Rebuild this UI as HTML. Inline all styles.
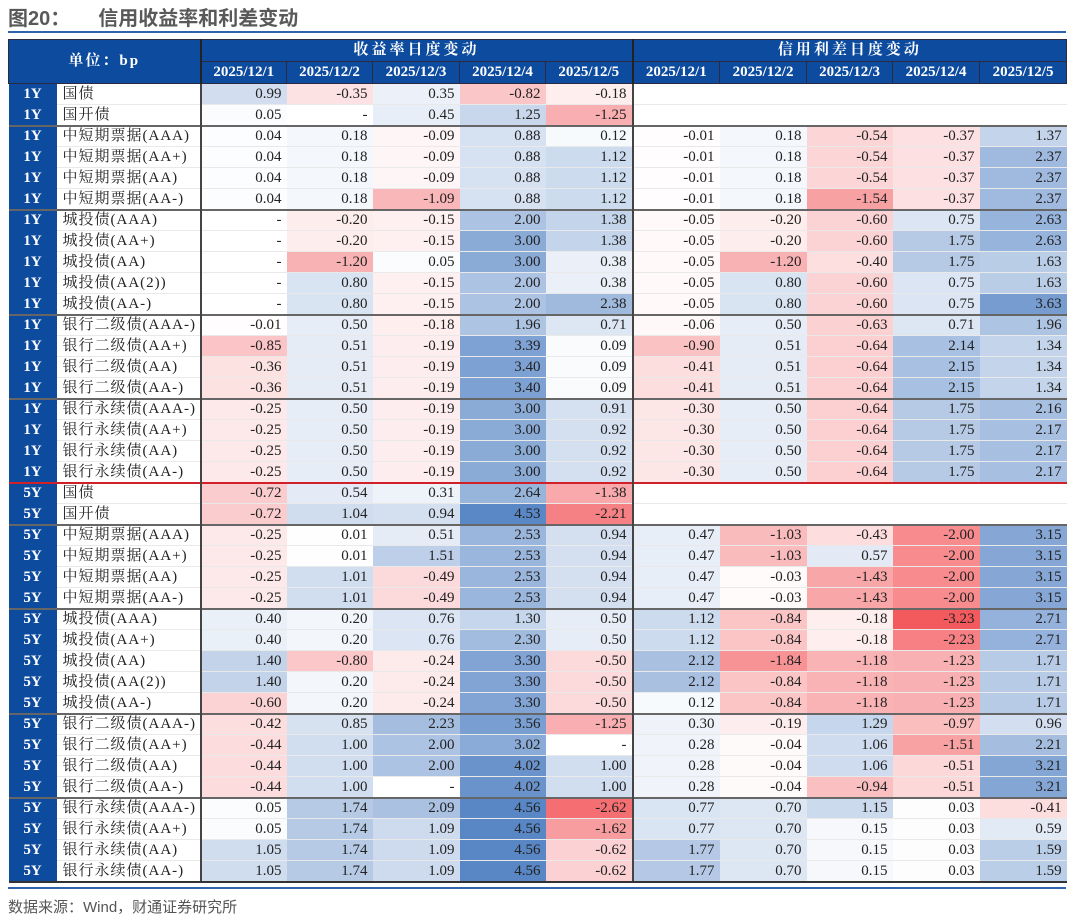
<!DOCTYPE html>
<html><head><meta charset="utf-8">
<style>
body{margin:0;width:1080px;height:917px;background:#fff;position:relative;overflow:hidden;font-family:"Liberation Serif","Noto Serif CJK SC",serif;}
.title{position:absolute;left:8px;top:2px;font-family:"Liberation Sans","Noto Sans CJK SC",sans-serif;font-weight:bold;font-size:20px;color:#595959;}
.title span{margin-left:28px}
.hl{position:absolute;left:8px;width:1058px;height:2px;background:#2f64ad}
table{position:absolute;left:8px;top:39px;border-collapse:collapse;table-layout:fixed;width:1058px;font-size:15px;color:#222}
td{height:20px;padding:0 5px 0 0;text-align:right;border-bottom:1px solid #e9e9e9;white-space:nowrap;overflow:hidden;line-height:19px}
td.y{background:#0d4b9f;color:#fff;font-weight:bold;text-align:center;padding:0;border-bottom:1px solid #0d4b9f}
td.n{text-align:left;padding-left:6px;border-right:2px solid #444;letter-spacing:1px}
td.s{border-left:2px solid #444}
tr.g td{border-top:2px solid #666;height:19px}
tr.r td{border-top:2px solid #d0202a;height:19px}
tr.h td{background:#0d4b9f;color:#fff;font-weight:bold;text-align:center;padding:0;border:1px solid #2a2a40;height:21px}
tr:last-child td{border-bottom:2px solid #333}
.src{position:absolute;left:8px;top:896px;font-family:"Liberation Sans","Noto Sans CJK SC",sans-serif;font-size:15px;color:#555}
</style></head><body>
<div class="title">图20：<span>信用收益率和利差变动</span></div>
<div class="hl" style="top:31px"></div>
<table id="t">
<colgroup><col style="width:48px"><col style="width:144px"><col style="width:86px"><col style="width:86px"><col style="width:87px"><col style="width:86px"><col style="width:87px"><col style="width:87px"><col style="width:87px"><col style="width:86px"><col style="width:87px"><col style="width:87px"></colgroup>
<tr class="h"><td colspan="2" rowspan="2" style="letter-spacing:2px">单位：bp</td><td colspan="5" style="letter-spacing:3px;border-left:2px solid #222">收益率日度变动</td><td colspan="5" style="letter-spacing:3px;border-left:2px solid #222">信用利差日度变动</td></tr>
<tr class="h"><td style="border-left:2px solid #222">2025/12/1</td><td>2025/12/2</td><td>2025/12/3</td><td>2025/12/4</td><td>2025/12/5</td><td style="border-left:2px solid #222">2025/12/1</td><td>2025/12/2</td><td>2025/12/3</td><td>2025/12/4</td><td>2025/12/5</td></tr>
<tr><td class="y">1Y</td><td class="n">国债</td><td>0.99</td><td>-0.35</td><td>0.35</td><td>-0.82</td><td>-0.18</td><td class="s b"></td><td class="b"></td><td class="b"></td><td class="b"></td><td class="b"></td></tr>
<tr><td class="y">1Y</td><td class="n">国开债</td><td>0.05</td><td>-</td><td>0.45</td><td>1.25</td><td>-1.25</td><td class="s b"></td><td class="b"></td><td class="b"></td><td class="b"></td><td class="b"></td></tr>
<tr class="g"><td class="y">1Y</td><td class="n">中短期票据(AAA)</td><td>0.04</td><td>0.18</td><td>-0.09</td><td>0.88</td><td>0.12</td><td class="s">-0.01</td><td>0.18</td><td>-0.54</td><td>-0.37</td><td>1.37</td></tr>
<tr><td class="y">1Y</td><td class="n">中短期票据(AA+)</td><td>0.04</td><td>0.18</td><td>-0.09</td><td>0.88</td><td>1.12</td><td class="s">-0.01</td><td>0.18</td><td>-0.54</td><td>-0.37</td><td>2.37</td></tr>
<tr><td class="y">1Y</td><td class="n">中短期票据(AA)</td><td>0.04</td><td>0.18</td><td>-0.09</td><td>0.88</td><td>1.12</td><td class="s">-0.01</td><td>0.18</td><td>-0.54</td><td>-0.37</td><td>2.37</td></tr>
<tr><td class="y">1Y</td><td class="n">中短期票据(AA-)</td><td>0.04</td><td>0.18</td><td>-1.09</td><td>0.88</td><td>1.12</td><td class="s">-0.01</td><td>0.18</td><td>-1.54</td><td>-0.37</td><td>2.37</td></tr>
<tr class="g"><td class="y">1Y</td><td class="n">城投债(AAA)</td><td>-</td><td>-0.20</td><td>-0.15</td><td>2.00</td><td>1.38</td><td class="s">-0.05</td><td>-0.20</td><td>-0.60</td><td>0.75</td><td>2.63</td></tr>
<tr><td class="y">1Y</td><td class="n">城投债(AA+)</td><td>-</td><td>-0.20</td><td>-0.15</td><td>3.00</td><td>1.38</td><td class="s">-0.05</td><td>-0.20</td><td>-0.60</td><td>1.75</td><td>2.63</td></tr>
<tr><td class="y">1Y</td><td class="n">城投债(AA)</td><td>-</td><td>-1.20</td><td>0.05</td><td>3.00</td><td>0.38</td><td class="s">-0.05</td><td>-1.20</td><td>-0.40</td><td>1.75</td><td>1.63</td></tr>
<tr><td class="y">1Y</td><td class="n">城投债(AA(2))</td><td>-</td><td>0.80</td><td>-0.15</td><td>2.00</td><td>0.38</td><td class="s">-0.05</td><td>0.80</td><td>-0.60</td><td>0.75</td><td>1.63</td></tr>
<tr><td class="y">1Y</td><td class="n">城投债(AA-)</td><td>-</td><td>0.80</td><td>-0.15</td><td>2.00</td><td>2.38</td><td class="s">-0.05</td><td>0.80</td><td>-0.60</td><td>0.75</td><td>3.63</td></tr>
<tr class="g"><td class="y">1Y</td><td class="n">银行二级债(AAA-)</td><td>-0.01</td><td>0.50</td><td>-0.18</td><td>1.96</td><td>0.71</td><td class="s">-0.06</td><td>0.50</td><td>-0.63</td><td>0.71</td><td>1.96</td></tr>
<tr><td class="y">1Y</td><td class="n">银行二级债(AA+)</td><td>-0.85</td><td>0.51</td><td>-0.19</td><td>3.39</td><td>0.09</td><td class="s">-0.90</td><td>0.51</td><td>-0.64</td><td>2.14</td><td>1.34</td></tr>
<tr><td class="y">1Y</td><td class="n">银行二级债(AA)</td><td>-0.36</td><td>0.51</td><td>-0.19</td><td>3.40</td><td>0.09</td><td class="s">-0.41</td><td>0.51</td><td>-0.64</td><td>2.15</td><td>1.34</td></tr>
<tr><td class="y">1Y</td><td class="n">银行二级债(AA-)</td><td>-0.36</td><td>0.51</td><td>-0.19</td><td>3.40</td><td>0.09</td><td class="s">-0.41</td><td>0.51</td><td>-0.64</td><td>2.15</td><td>1.34</td></tr>
<tr class="g"><td class="y">1Y</td><td class="n">银行永续债(AAA-)</td><td>-0.25</td><td>0.50</td><td>-0.19</td><td>3.00</td><td>0.91</td><td class="s">-0.30</td><td>0.50</td><td>-0.64</td><td>1.75</td><td>2.16</td></tr>
<tr><td class="y">1Y</td><td class="n">银行永续债(AA+)</td><td>-0.25</td><td>0.50</td><td>-0.19</td><td>3.00</td><td>0.92</td><td class="s">-0.30</td><td>0.50</td><td>-0.64</td><td>1.75</td><td>2.17</td></tr>
<tr><td class="y">1Y</td><td class="n">银行永续债(AA)</td><td>-0.25</td><td>0.50</td><td>-0.19</td><td>3.00</td><td>0.92</td><td class="s">-0.30</td><td>0.50</td><td>-0.64</td><td>1.75</td><td>2.17</td></tr>
<tr><td class="y">1Y</td><td class="n">银行永续债(AA-)</td><td>-0.25</td><td>0.50</td><td>-0.19</td><td>3.00</td><td>0.92</td><td class="s">-0.30</td><td>0.50</td><td>-0.64</td><td>1.75</td><td>2.17</td></tr>
<tr class="r"><td class="y">5Y</td><td class="n">国债</td><td>-0.72</td><td>0.54</td><td>0.31</td><td>2.64</td><td>-1.38</td><td class="s b"></td><td class="b"></td><td class="b"></td><td class="b"></td><td class="b"></td></tr>
<tr><td class="y">5Y</td><td class="n">国开债</td><td>-0.72</td><td>1.04</td><td>0.94</td><td>4.53</td><td>-2.21</td><td class="s b"></td><td class="b"></td><td class="b"></td><td class="b"></td><td class="b"></td></tr>
<tr class="g"><td class="y">5Y</td><td class="n">中短期票据(AAA)</td><td>-0.25</td><td>0.01</td><td>0.51</td><td>2.53</td><td>0.94</td><td class="s">0.47</td><td>-1.03</td><td>-0.43</td><td>-2.00</td><td>3.15</td></tr>
<tr><td class="y">5Y</td><td class="n">中短期票据(AA+)</td><td>-0.25</td><td>0.01</td><td>1.51</td><td>2.53</td><td>0.94</td><td class="s">0.47</td><td>-1.03</td><td>0.57</td><td>-2.00</td><td>3.15</td></tr>
<tr><td class="y">5Y</td><td class="n">中短期票据(AA)</td><td>-0.25</td><td>1.01</td><td>-0.49</td><td>2.53</td><td>0.94</td><td class="s">0.47</td><td>-0.03</td><td>-1.43</td><td>-2.00</td><td>3.15</td></tr>
<tr><td class="y">5Y</td><td class="n">中短期票据(AA-)</td><td>-0.25</td><td>1.01</td><td>-0.49</td><td>2.53</td><td>0.94</td><td class="s">0.47</td><td>-0.03</td><td>-1.43</td><td>-2.00</td><td>3.15</td></tr>
<tr class="g"><td class="y">5Y</td><td class="n">城投债(AAA)</td><td>0.40</td><td>0.20</td><td>0.76</td><td>1.30</td><td>0.50</td><td class="s">1.12</td><td>-0.84</td><td>-0.18</td><td>-3.23</td><td>2.71</td></tr>
<tr><td class="y">5Y</td><td class="n">城投债(AA+)</td><td>0.40</td><td>0.20</td><td>0.76</td><td>2.30</td><td>0.50</td><td class="s">1.12</td><td>-0.84</td><td>-0.18</td><td>-2.23</td><td>2.71</td></tr>
<tr><td class="y">5Y</td><td class="n">城投债(AA)</td><td>1.40</td><td>-0.80</td><td>-0.24</td><td>3.30</td><td>-0.50</td><td class="s">2.12</td><td>-1.84</td><td>-1.18</td><td>-1.23</td><td>1.71</td></tr>
<tr><td class="y">5Y</td><td class="n">城投债(AA(2))</td><td>1.40</td><td>0.20</td><td>-0.24</td><td>3.30</td><td>-0.50</td><td class="s">2.12</td><td>-0.84</td><td>-1.18</td><td>-1.23</td><td>1.71</td></tr>
<tr><td class="y">5Y</td><td class="n">城投债(AA-)</td><td>-0.60</td><td>0.20</td><td>-0.24</td><td>3.30</td><td>-0.50</td><td class="s">0.12</td><td>-0.84</td><td>-1.18</td><td>-1.23</td><td>1.71</td></tr>
<tr class="g"><td class="y">5Y</td><td class="n">银行二级债(AAA-)</td><td>-0.42</td><td>0.85</td><td>2.23</td><td>3.56</td><td>-1.25</td><td class="s">0.30</td><td>-0.19</td><td>1.29</td><td>-0.97</td><td>0.96</td></tr>
<tr><td class="y">5Y</td><td class="n">银行二级债(AA+)</td><td>-0.44</td><td>1.00</td><td>2.00</td><td>3.02</td><td>-</td><td class="s">0.28</td><td>-0.04</td><td>1.06</td><td>-1.51</td><td>2.21</td></tr>
<tr><td class="y">5Y</td><td class="n">银行二级债(AA)</td><td>-0.44</td><td>1.00</td><td>2.00</td><td>4.02</td><td>1.00</td><td class="s">0.28</td><td>-0.04</td><td>1.06</td><td>-0.51</td><td>3.21</td></tr>
<tr><td class="y">5Y</td><td class="n">银行二级债(AA-)</td><td>-0.44</td><td>1.00</td><td>-</td><td>4.02</td><td>1.00</td><td class="s">0.28</td><td>-0.04</td><td>-0.94</td><td>-0.51</td><td>3.21</td></tr>
<tr class="g"><td class="y">5Y</td><td class="n">银行永续债(AAA-)</td><td>0.05</td><td>1.74</td><td>2.09</td><td>4.56</td><td>-2.62</td><td class="s">0.77</td><td>0.70</td><td>1.15</td><td>0.03</td><td>-0.41</td></tr>
<tr><td class="y">5Y</td><td class="n">银行永续债(AA+)</td><td>0.05</td><td>1.74</td><td>1.09</td><td>4.56</td><td>-1.62</td><td class="s">0.77</td><td>0.70</td><td>0.15</td><td>0.03</td><td>0.59</td></tr>
<tr><td class="y">5Y</td><td class="n">银行永续债(AA)</td><td>1.05</td><td>1.74</td><td>1.09</td><td>4.56</td><td>-0.62</td><td class="s">1.77</td><td>0.70</td><td>0.15</td><td>0.03</td><td>1.59</td></tr>
<tr><td class="y">5Y</td><td class="n">银行永续债(AA-)</td><td>1.05</td><td>1.74</td><td>1.09</td><td>4.56</td><td>-0.62</td><td class="s">1.77</td><td>0.70</td><td>0.15</td><td>0.03</td><td>1.59</td></tr>
</table>
<div class="hl" style="top:887px"></div>
<div class="src">数据来源：Wind，财通证券研究所</div>
<script>
var rows=document.getElementById('t').rows;
for(var i=2;i<rows.length;i++){var c=rows[i].cells;for(var j=2;j<c.length;j++){
 var td=c[j]; if(td.className.indexOf('b')>=0&&td.textContent==='')continue;
 var v=parseFloat(td.textContent); if(isNaN(v))v=0;
 var r,g,b;
 if(v>=0){var t=Math.pow(Math.min(1,v/4.6),0.85);r=255-167*t;g=255-121*t;b=255-57*t;}
 else{var t=Math.pow(Math.min(1,-v/3.1),0.8);r=255-12*t;g=255-165*t;b=255-161*t;}
 td.style.background='rgb('+Math.round(r)+','+Math.round(g)+','+Math.round(b)+')';
}}
</script>
</body></html>
